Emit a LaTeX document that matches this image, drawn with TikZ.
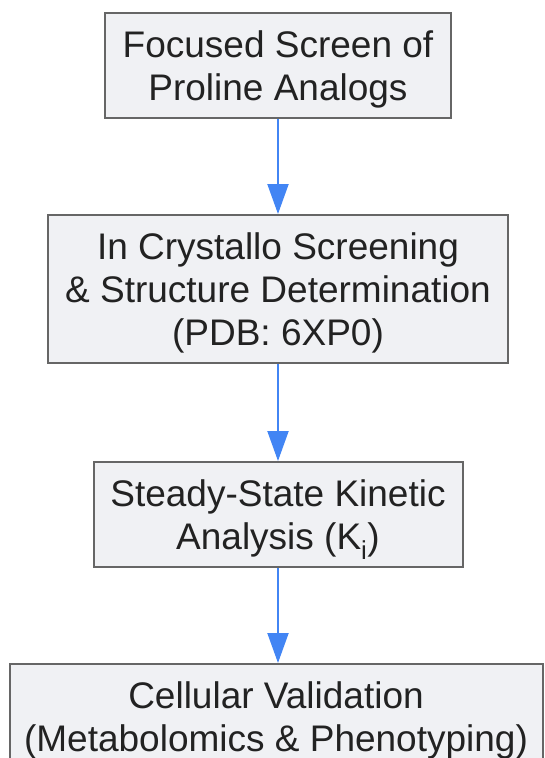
\documentclass[tikz,border=0pt]{standalone}
\usepackage{fontspec}
\setmainfont{Liberation Sans}
\usetikzlibrary{positioning, arrows.meta}

\definecolor{boxfill}{HTML}{F0F1F4}
\definecolor{boxline}{HTML}{666666}
\definecolor{flowblue}{HTML}{4285F4}
\definecolor{textgray}{HTML}{222222}

\begin{document}
\begin{tikzpicture} [
        x=1pt, y=1pt,
        node distance=95pt,
        stage/.style={rectangle, draw=boxline, line width=2pt, fill=boxfill, text=textgray, align=center, font=\fontsize{37}{43}\selectfont, inner sep=0pt, minimum height=105pt, text depth=0pt},
        line/.style={draw=flowblue, line width=2pt, -{Triangle[length=30pt, width=21pt]}}
    ]
        \useasboundingbox (0,0) rectangle (545,-758);
        \clip (0,0) rectangle (545,-758);
        % Nodes
        \node[stage, minimum width=346pt] (screen) at (278,-65.5) {Focused Screen of\\Proline Analogs};
        \node[stage, minimum width=460pt, minimum height=148pt, below=of screen] (crystal) {In Crystallo Screening\\\& Structure Determination\\(PDB: 6XP0)};
        \node[stage, minimum width=369pt, below=97pt of crystal] (kinetic) {Steady-State Kinetic\\Analysis (K\textsubscript{i})};
        \node[stage, minimum width=533pt, below=of kinetic, xshift=-2pt] (cellular) {Cellular Validation\\(Metabolomics \& Phenotyping)};

        % Paths
        \path [line] (screen) -- (crystal);
        \path [line] (crystal) -- (kinetic);
        \path [line] (kinetic) -- (cellular.north -| kinetic);
    \end{tikzpicture}
\end{document}
